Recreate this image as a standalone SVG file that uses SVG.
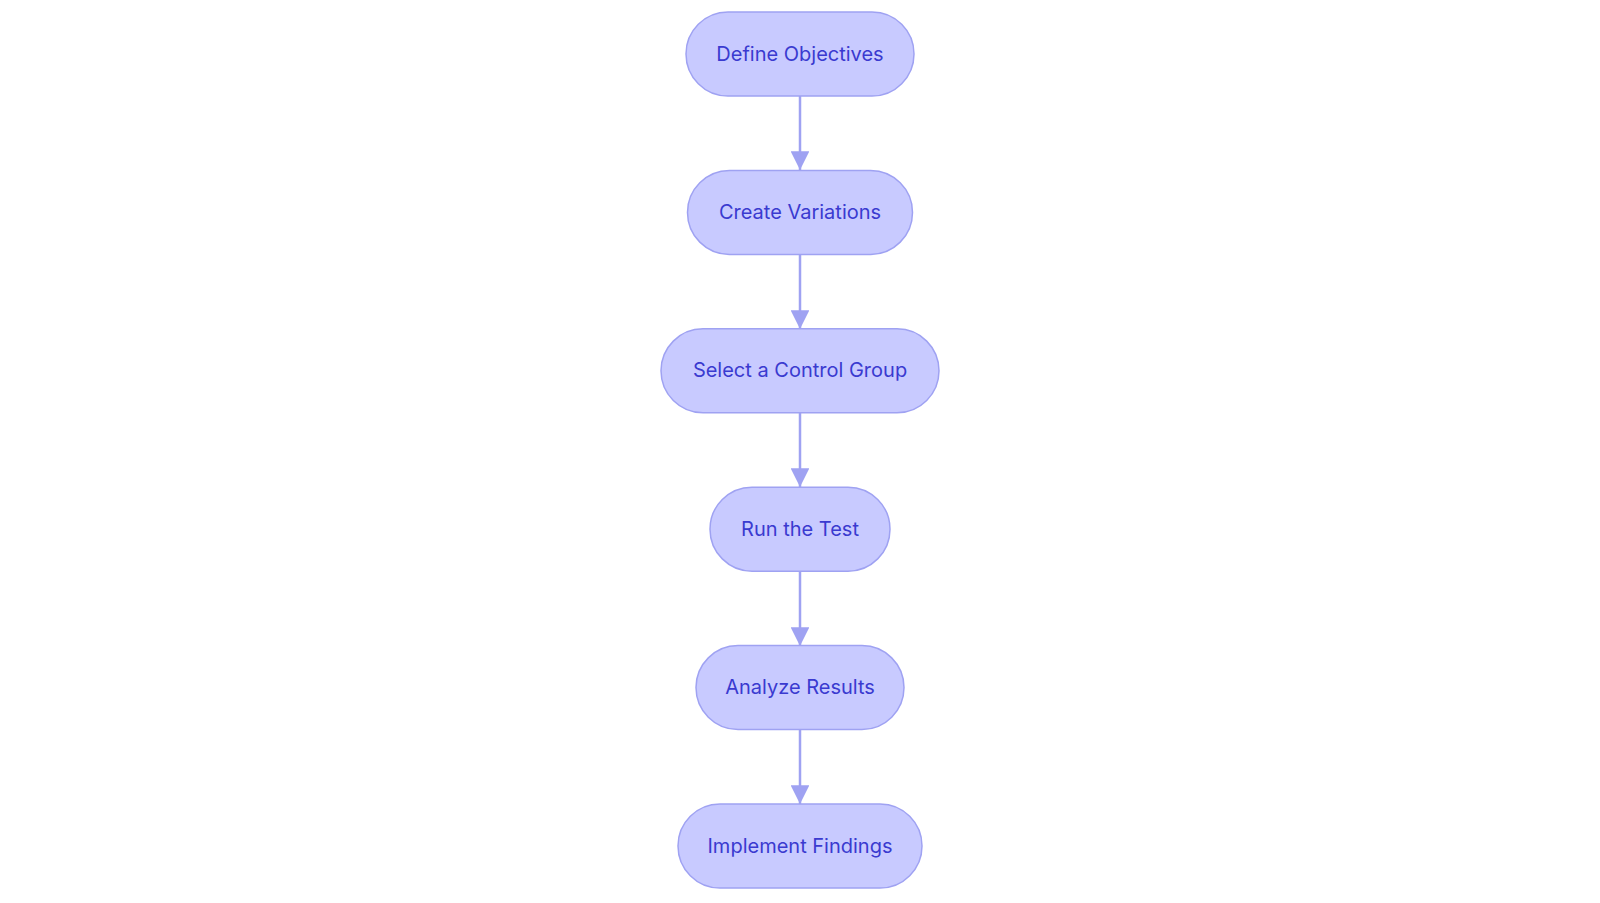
<svg xmlns="http://www.w3.org/2000/svg" width="1600" height="903" viewBox="0 0 1600 903">
<style>
.node rect{fill:#c8caff;stroke:#9fa2f2;stroke-width:1.5}
.node text{font-family:Inter,"Noto Sans",sans-serif;font-size:20px;fill:#3a3ad0;text-anchor:middle}
.edge{stroke:#9fa2f2;stroke-width:2.5;fill:none}
</style>
<defs>
<marker id="arr" viewBox="0 0 10 10" refX="10" refY="5" markerWidth="7.5" markerHeight="7.5" markerUnits="strokeWidth" orient="auto">
<path d="M0,0 L10,5 L0,10 z" fill="#9fa2f2"/>
</marker>
</defs>
<rect width="1600" height="903" fill="#ffffff"/>
<g id="connectors">
<line class="edge" x1="800" y1="96" x2="800" y2="170" marker-end="url(#arr)"/>
<line class="edge" x1="800" y1="254" x2="800" y2="329" marker-end="url(#arr)"/>
<line class="edge" x1="800" y1="413" x2="800" y2="487" marker-end="url(#arr)"/>
<line class="edge" x1="800" y1="571" x2="800" y2="646" marker-end="url(#arr)"/>
<line class="edge" x1="800" y1="730" x2="800" y2="804" marker-end="url(#arr)"/>
</g>
<g id="n1" class="node"><rect x="686" y="12" width="228" height="84" rx="42"/><text x="800" y="60.5">Define Objectives</text></g>
<g id="n2" class="node"><rect x="687.5" y="170.4" width="225" height="84" rx="42"/><text x="800" y="218.9">Create Variations</text></g>
<g id="n3" class="node"><rect x="661" y="328.8" width="278" height="84" rx="42"/><text x="800" y="377.3">Select a Control Group</text></g>
<g id="n4" class="node"><rect x="710" y="487.2" width="180" height="84" rx="42"/><text x="800" y="535.7">Run the Test</text></g>
<g id="n5" class="node"><rect x="696" y="645.6" width="208" height="84" rx="42"/><text x="800" y="694.1">Analyze Results</text></g>
<g id="n6" class="node"><rect x="678" y="804" width="244" height="84" rx="42"/><text x="800" y="852.5">Implement Findings</text></g>
</svg>
